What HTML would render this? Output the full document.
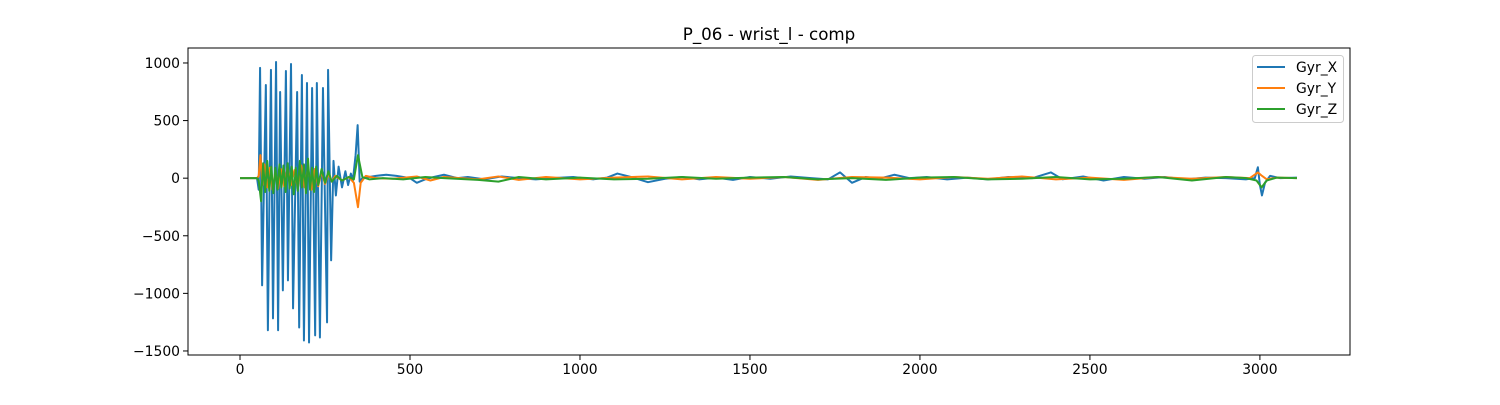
<!DOCTYPE html>
<html><head><meta charset="utf-8"><style>
body{margin:0;background:#fff;}
svg text{font-family:"DejaVu Sans","Liberation Sans",sans-serif;}
</style></head><body>
<svg id="chart" width="1500" height="400" viewBox="0 0 1500 400" xmlns="http://www.w3.org/2000/svg">
<rect width="1500" height="400" fill="#fff"/>
<text x="769" y="40" font-size="16.7" text-anchor="middle" fill="#000">P_06 - wrist_l - comp</text>
<g id="plot"></g>
<rect x="188" y="48" width="1162" height="307" fill="none" stroke="#000" stroke-width="1"/>
<g id="xaxis"></g>
<g id="yaxis"></g>
<g>
<rect x="1252.5" y="55.5" width="91" height="67" rx="3" fill="#fff" fill-opacity="0.8" stroke="#ccc"/>
<g><line x1="1257" y1="67" x2="1285" y2="67" stroke="#1f77b4" stroke-width="2"/><text x="1296" y="72" font-size="13.9">Gyr_X</text></g>
<g><line x1="1257" y1="88" x2="1285" y2="88" stroke="#ff7f0e" stroke-width="2"/><text x="1296" y="93" font-size="13.9">Gyr_Y</text></g>
<g><line x1="1257" y1="109" x2="1285" y2="109" stroke="#2ca02c" stroke-width="2"/><text x="1296" y="114" font-size="13.9">Gyr_Z</text></g>
</g>
</svg>
<script>
const xTicks=[0,500,1000,1500,2000,2500,3000];
const yTicks=[-1500,-1000,-500,0,500,1000];
const tX=[0,50,55,59,65,76,82,91,97,106,
112,118,126,135,141,150,156,168,174,182,
188,197,203,212,221,226,235,244,256,259,
268,275,282,290,300,310,318,326,332,340,
346,352,
360,380,400,430,460,500,520,545,570,600,
640,670,720,770,820,870,920,980,1040,1080,
1110,1150,1200,1250,1300,1350,1400,1450,1500,1560,
1620,1680,1730,1765,1800,1840,1880,1925,1970,2020,
2080,2140,2200,2260,2330,2385,2420,2480,2540,2600,
2660,2720,2780,2840,2900,2960,2985,2994,3000,3006,
3015,3030,3060,3109];
const gx=[0,0,-100,957,-930,809,-1320,940,-1217,1009,
-1320,748,-974,930,-887,991,-1130,748,-1296,896,
-1409,826,-1426,783,-1365,826,-1383,783,-1252,940,
-713,150,-150,100,-80,60,-60,40,-20,200,
460,-30,
0,10,20,30,20,0,-40,-10,10,30,
0,10,-10,15,0,-10,0,10,-10,5,
40,10,-35,-5,10,-10,5,-15,10,-5,
15,0,-10,50,-40,10,-5,30,0,10,
-10,5,-10,10,0,50,-10,15,-20,10,
-5,10,-10,5,0,-10,0,95,-60,-150,
-40,20,0,5];
const tY=[0,50,55,60,66,72,80,88,96,104,112,120,130,140,150,160,170,180,190,200,210,220,230,240,250,260,270,280,300,320,335,347,355,370,400,450,520,560,600,700,760,820,900,1000,1100,1200,1300,1400,1500,1600,1700,1800,1900,2000,2100,2200,2300,2400,2500,2600,2700,2800,2900,2970,2994,3006,3020,3050,3109];
const gy=[0,0,20,200,-60,120,-80,90,-100,60,-90,80,-70,100,-60,70,-90,110,-80,90,-100,80,-70,60,-50,40,-30,20,-20,10,-40,-252,-40,20,0,-5,15,-20,10,-10,15,-15,10,-10,5,15,-10,10,-5,10,-15,10,5,-10,10,-5,15,-10,5,-15,10,-5,10,0,50,20,-10,5,0];
const tZ=[0,50,55,62,68,74,80,86,92,98,104,110,116,122,128,134,140,146,152,158,164,170,176,182,188,194,200,206,212,218,224,230,240,250,260,270,285,300,320,335,347,360,380,420,480,545,600,700,760,820,900,1000,1100,1200,1300,1400,1500,1600,1700,1800,1900,2000,2100,2200,2300,2400,2500,2600,2700,2800,2900,2960,2990,3005,3020,3050,3109];
const gz=[0,0,-20,-200,130,-120,150,-110,100,-130,90,-100,120,-80,110,-120,130,-90,100,-140,90,-110,150,-80,120,-130,170,-100,90,-120,100,-60,80,-40,60,-30,20,-20,10,-10,200,10,-10,0,-10,10,0,-15,-30,10,-10,5,-10,-5,10,-5,5,10,-10,0,-15,5,10,-10,-5,10,-10,-5,10,-20,10,0,-20,-80,-20,5,0];
const L=188,R=1350,T=48,B=355,xmin=-153,xmax=3265,ymin=-1535,ymax=1130;
const sx=v=>L+(v-xmin)/(xmax-xmin)*(R-L);
const sy=v=>B-(v-ymin)/(ymax-ymin)*(B-T);
const NS='http://www.w3.org/2000/svg';
const plot=document.getElementById('plot');
function series(ts,vs,color,name){
  const p=document.createElementNS(NS,'path');
  let d='';
  for(let i=0;i<ts.length&&i<vs.length;i++){d+=(i?'L':'M')+sx(ts[i]).toFixed(2)+','+sy(vs[i]).toFixed(2);}
  p.setAttribute('d',d);p.setAttribute('fill','none');p.setAttribute('stroke',color);
  p.setAttribute('stroke-width','2');p.setAttribute('stroke-linejoin','round');
  
  
  plot.appendChild(p);
}
series(tX,gx,'#1f77b4','gyr-x-line');
series(tY,gy,'#ff7f0e','gyr-y-line');
series(tZ,gz,'#2ca02c','gyr-z-line');
const xa=document.getElementById('xaxis');
xTicks.forEach(v=>{
  const g=document.createElementNS(NS,'g');
  
  
  const x=sx(v);
  g.innerHTML=`<line x1="${x}" y1="${B}" x2="${x}" y2="${B+5}" stroke="#000"/><text x="${x}" y="${B+19}" font-size="13.9" text-anchor="middle">${v}</text>`;
  xa.appendChild(g);
});
const ya=document.getElementById('yaxis');
yTicks.forEach(v=>{
  const g=document.createElementNS(NS,'g');
  
  
  const y=sy(v);
  g.innerHTML=`<line x1="${L-5}" y1="${y}" x2="${L}" y2="${y}" stroke="#000"/><text x="${L-8}" y="${y+5}" font-size="13.9" text-anchor="end">${v<0?'\u2212'+(-v):v}</text>`;
  ya.appendChild(g);
});
</script>
</body></html>
